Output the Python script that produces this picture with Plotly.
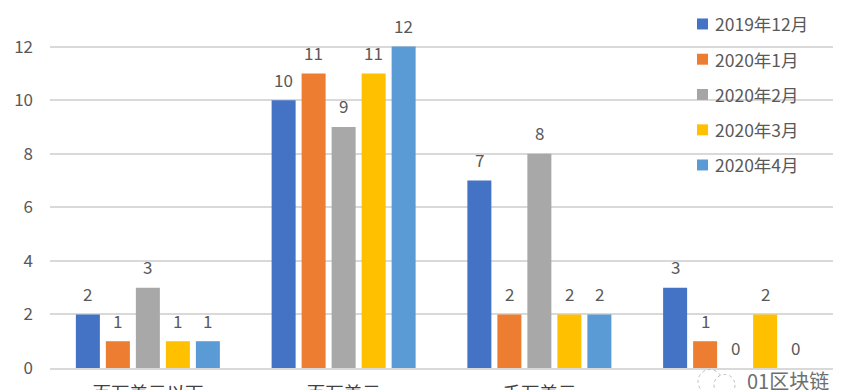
import plotly.graph_objects as go

categories = ["百万美元以下", "百万美元", "千万美元", " "]
series_names = ["2019年12月", "2020年1月", "2020年2月", "2020年3月", "2020年4月"]
dec_2019 = [2, 10, 7, 3]
jan_2020 = [1, 11, 2, 1]
feb_2020 = [3, 9, 8, 0]
mar_2020 = [1, 11, 2, 2]
apr_2020 = [1, 12, 2, 0]
series_values = [dec_2019, jan_2020, feb_2020, mar_2020, apr_2020]
colors = ["#4472C4", "#ED7D31", "#A5A5A5", "#FFC000", "#5B9BD5"]
y_ticks = [0, 2, 4, 6, 8, 10, 12]

W, H = 856, 390
L, R, T, B = 50, 833, 0, 368.5
FONT = "Noto Sans CJK SC, Noto Sans, sans-serif"
TXT = "#595959"
GRID = "#D9D9D9"


def px(x):
    return (x - L) / (R - L)


def py(y):
    return 1 - (y - T) / (B - T)


fig = go.Figure()
for i, (name, vals, col) in enumerate(zip(series_names, series_values, colors)):
    marker = dict(color=col, line_width=0)
    if i == 2:
        marker["pattern"] = dict(shape=".", size=2, solidity=0.5, fgcolor="#808080", bgcolor="#B4B4B4")
    fig.add_bar(name=name, x=categories, y=vals, marker=marker, showlegend=False)

slot = (1 - 0.2337) / 5
annotations = []
for k, vals in enumerate(series_values):
    for c, v in enumerate(vals):
        annotations.append(dict(
            x=c + (k - 2) * slot, y=v, xref="x", yref="y", text=str(v), showarrow=False,
            yshift=21, font=dict(family=FONT, size=17, color=TXT),
        ))

shapes = []
legend_y = [24, 59.3, 94.6, 130, 165.2]
for name, col, ly in zip(series_names, colors, legend_y):
    shapes.append(dict(type="rect", xref="paper", yref="paper", x0=px(697), x1=px(708),
                       y0=py(ly + 5.5), y1=py(ly - 5.5), fillcolor=col, line_width=0, layer="above"))
    annotations.append(dict(x=px(713), y=py(ly), xref="paper", yref="paper", xanchor="left", yanchor="middle",
                            text=name, showarrow=False, font=dict(family=FONT, size=17.5, color=TXT)))

shapes += [
    dict(type="circle", xref="paper", yref="paper", x0=px(698), x1=px(722), y0=py(394), y1=py(370),
         line=dict(color="#BDBDBD", width=1, dash="dot"), fillcolor="white", layer="above"),
    dict(type="circle", xref="paper", yref="paper", x0=px(714), x1=px(735), y0=py(396), y1=py(375),
         line=dict(color="#BDBDBD", width=1, dash="dot"), fillcolor="white", layer="above"),
]
annotations.append(dict(
    x=px(787.5), y=py(381), xref="paper", yref="paper", xanchor="center", yanchor="middle",
    text="01区块链", showarrow=False, font=dict(family=FONT, size=20, color="#6E6E6E"),
))

fig.update_layout(
    width=W, height=H, autosize=False,
    margin=dict(l=L, r=W - R, t=T, b=H - B, autoexpand=False, pad=0),
    paper_bgcolor="white", plot_bgcolor="white",
    barmode="group", bargap=0.2337, bargroupgap=0.2,
    font=dict(family=FONT, size=16, color=TXT),
    showlegend=False,
    xaxis=dict(
        type="category", categoryorder="array", categoryarray=categories,
        range=[-0.5, 3.5], ticklen=0, ticklabelstandoff=8,
        tickfont=dict(family=FONT, size=18.5, color="#404040"),
        showline=True, linecolor=GRID, linewidth=2, showgrid=False, automargin=False,
    ),
    yaxis=dict(
        range=[0, 13.74], tickvals=y_ticks, ticklen=0, ticklabelstandoff=16,
        tickfont=dict(family=FONT, size=17, color=TXT),
        gridcolor=GRID, gridwidth=2, zeroline=False, showline=False, automargin=False,
    ),
    annotations=annotations,
    shapes=shapes,
)

fig.write_html("out.html", config={"displayModeBar": False}, post_script="document.body.style.margin='0';")
